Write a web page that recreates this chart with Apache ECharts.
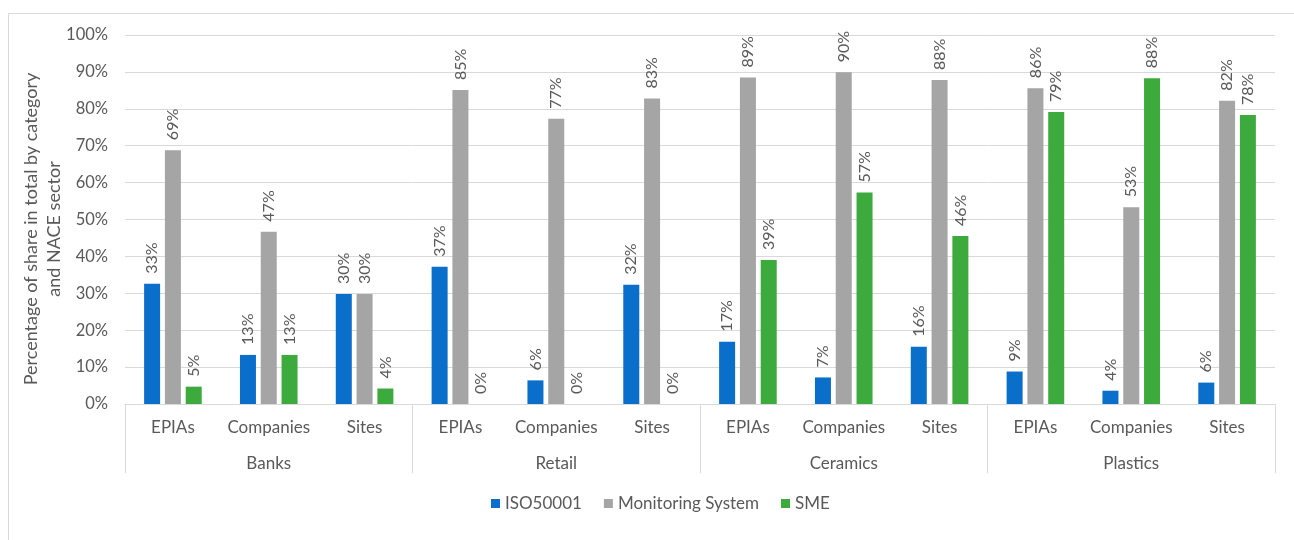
<!DOCTYPE html>
<html>
<head>
<meta charset="utf-8">
<script src="https://cdn.jsdelivr.net/npm/echarts@6/dist/echarts.min.js"></script>
<style>
  html, body { margin: 0; padding: 0; background: #fff; }
  #shareChart { width: 1294px; height: 540px; }
</style>
</head>
<body>
<div id="shareChart"></div>
<script>
  // categories
  var sectors = ['Banks', 'Retail', 'Ceramics', 'Plastics'];
  var subCats = ['EPIAs', 'Companies', 'Sites'];
  var categories = [];
  sectors.forEach(function () {
    subCats.forEach(function (s) { categories.push(s); });
  });

  // values in %
  var iso50001 = [32.6, 13.3, 29.8, 37.2, 6.4, 32.3, 16.9, 7.2, 15.5, 8.8, 3.6, 5.8];
  var monitoring = [68.8, 46.7, 29.8, 85.1, 77.3, 82.8, 88.5, 89.9, 87.8, 85.6, 53.3, 82.2];
  var sme = [4.7, 13.3, 4.2, 0, 0, 0, 39.0, 57.3, 45.5, 79.1, 88.3, 78.3];

  var yTicks = [0, 10, 20, 30, 40, 50, 60, 70, 80, 90, 100];
  var yTitle = 'Percentage of share in total by category\nand NACE sector';

  var txt = '#595959';
  var fontName = 'Lato, "Open Sans", sans-serif';

  var myChart = echarts.init(document.getElementById('shareChart'));

  function barLabel() {
    return {
      show: true,
      position: 'top',
      rotate: 90,
      align: 'left',
      verticalAlign: 'middle',
      distance: 10,
      color: txt,
      fontSize: 16,
      fontFamily: fontName,
      formatter: function (p) { return Math.round(p.value) + '%'; }
    };
  }

  function mkSeries(name, data, color) {
    return {
      name: name,
      type: 'bar',
      data: data,
      barWidth: 16,
      barGap: '30%',
      itemStyle: { color: color },
      label: barLabel()
    };
  }

  var option = {
    backgroundColor: '#fff',
    animation: false,
    textStyle: { fontFamily: fontName },
    graphic: [{
      type: 'rect',
      shape: { x: 8.5, y: 13.5, width: 1300, height: 600 },
      style: { fill: 'none', stroke: '#D9D9D9', lineWidth: 1 },
      silent: true
    }, {
      // y axis title
      type: 'text',
      x: 43,
      y: 229,
      rotation: Math.PI / 2,
      silent: true,
      style: {
        text: yTitle,
        fill: txt,
        font: '18px ' + fontName,
        lineHeight: 23,
        align: 'center',
        verticalAlign: 'middle'
      }
    }],
    legend: {
      data: ['ISO50001', 'Monitoring System', 'SME'],
      top: 490,
      left: 486,
      icon: 'rect',
      itemWidth: 9,
      itemHeight: 9,
      itemGap: 22,
      textStyle: { color: txt, fontSize: 17, fontFamily: fontName }
    },
    grid: {
      left: 125,
      right: 19,
      top: 35,
      bottom: 136,
      containLabel: false
    },
    xAxis: [{
      type: 'category',
      data: categories,
      axisTick: { show: false },
      axisLine: { lineStyle: { color: '#D9D9D9' } },
      axisLabel: { color: txt, fontSize: 17, margin: 15, fontFamily: fontName, interval: 0 }
    }, {
      type: 'category',
      data: sectors,
      position: 'bottom',
      axisLine: { show: false },
      axisTick: { show: true, length: 69, lineStyle: { color: '#D9D9D9' } },
      axisLabel: { color: txt, fontSize: 17, margin: 51, fontFamily: fontName, interval: 0 },
      splitLine: { show: false }
    }],
    yAxis: {
      type: 'value',
      min: yTicks[0],
      max: yTicks[yTicks.length - 1],
      interval: 10,
      axisLabel: {
        color: txt,
        fontSize: 16.5,
        margin: 17,
        fontFamily: fontName,
        formatter: function (v) { return v + '%'; }
      },
      axisLine: { show: false },
      axisTick: { show: false },
      splitLine: { lineStyle: { color: '#D9D9D9' } }
    },
    series: [
      mkSeries('ISO50001', iso50001, '#0A6ECB'),
      mkSeries('Monitoring System', monitoring, '#A5A5A5'),
      mkSeries('SME', sme, '#3DAA3D')
    ]
  };

  if (option && typeof option === 'object') {
    myChart.setOption(option, true);
  }
</script>
</body>
</html>
